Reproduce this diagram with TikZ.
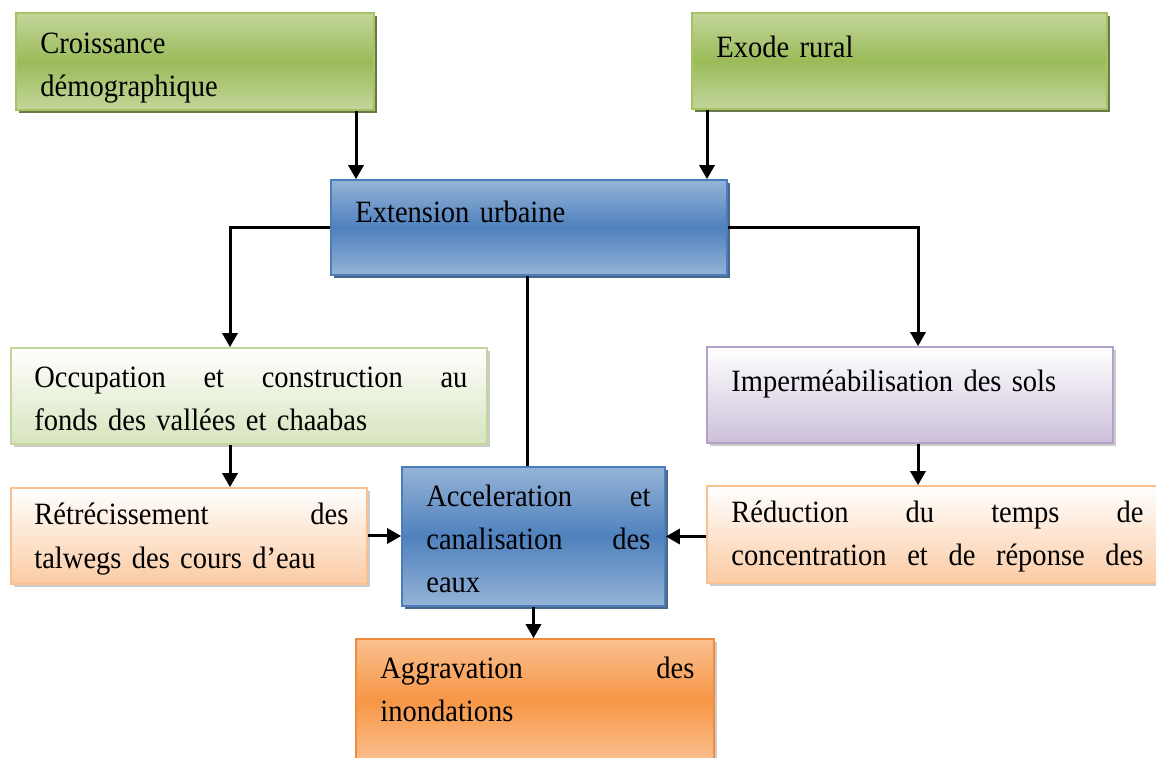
\documentclass[tikz,border=0pt]{standalone}
\usepackage{fontspec}
\setmainfont{Liberation Serif}[FakeStretch=0.92]
\usetikzlibrary{shadows,arrows.meta,fit}
\definecolor{gTop}{HTML}{C3D69B}
\definecolor{gMid}{HTML}{9BBB59}
\definecolor{gBorder}{HTML}{A5C265}
\definecolor{gShadow}{HTML}{4F6228}
\definecolor{bTop}{HTML}{95B3D7}
\definecolor{bMid}{HTML}{4F81BD}
\definecolor{bBorder}{HTML}{4A7EBB}
\definecolor{bShadow}{HTML}{2C4D75}
\definecolor{lgBottom}{HTML}{D7E4BD}
\definecolor{lgBorder}{HTML}{C3D69B}
\definecolor{pBottom}{HTML}{CCC0DA}
\definecolor{pBorder}{HTML}{B3A2C7}
\definecolor{oBottom}{HTML}{FBCBA4}
\definecolor{oBorder}{HTML}{FAC090}
\definecolor{aTop}{HTML}{FAC090}
\definecolor{aMid}{HTML}{F79646}
\definecolor{aBorder}{HTML}{F38B3C}
\definecolor{lShadow}{HTML}{BFBFBF}
\begin{document}
\begin{tikzpicture}[x=0.5pt,y=-0.5pt,
  boxbase/.style={inner sep=0pt, line width=0.8pt},
  greenbox/.style={boxbase, draw=gBorder, top color=gTop, bottom color=gTop, middle color=gMid,
    drop shadow={shadow xshift=1.6pt, shadow yshift=-1.6pt, fill=gShadow, opacity=0.85}},
  bluebox/.style={boxbase, draw=bBorder, top color=bTop, bottom color=bTop, middle color=bMid,
    drop shadow={shadow xshift=1.6pt, shadow yshift=-1.6pt, fill=bShadow, opacity=0.85}},
  lgreenbox/.style={boxbase, draw=lgBorder, top color=white, bottom color=lgBottom,
    drop shadow={shadow xshift=1.6pt, shadow yshift=-1.6pt, fill=lShadow, opacity=0.8}},
  purplebox/.style={boxbase, draw=pBorder, top color=white, bottom color=pBottom,
    drop shadow={shadow xshift=1.6pt, shadow yshift=-1.6pt, fill=lShadow, opacity=0.8}},
  lorangebox/.style={boxbase, draw=oBorder, top color=white, bottom color=oBottom,
    drop shadow={shadow xshift=1.6pt, shadow yshift=-1.6pt, fill=lShadow, opacity=0.8}},
  orangebox/.style={boxbase, draw=aBorder, top color=aTop, bottom color=aTop, middle color=aMid,
    drop shadow={shadow xshift=1.6pt, shadow yshift=-1.6pt, fill=lShadow, opacity=0.8}},
  txt/.style={inner sep=0pt, anchor=base west, align=left,
    font=\fontsize{15.5pt}{21.5pt}\selectfont},
  arr/.style={line width=1.5pt, -{Triangle[length=7pt,width=7.5pt]}},
  ln/.style={line width=1.5pt}
]
\useasboundingbox (0,0) rectangle (1156,758);

% boxes
\node[greenbox, fit={(16,13) (374,110)}] (cro) {};
\node[greenbox, fit={(692,13) (1107,109)}] (exo) {};
\node[bluebox, fit={(331,180) (727,275)}] (ext) {};
\node[lgreenbox, fit={(11,348) (487,444)}] (occ) {};
\node[purplebox, fit={(707,347) (1113,443)}] (imp) {};
\node[lorangebox, fit={(11,488) (367,584)}] (ret) {};
\node[bluebox, fit={(402,467) (665,606)}] (acc) {};
\node[lorangebox, fit={(707,486) (1175,583)}] (red) {};
\node[orangebox, fit={(356,639) (714,762)}] (agg) {};

% texts
\node[txt, text width=160pt] (crot) at (40,54) {Croissance\\démographique};
\node[txt, text width=190pt] (exot) at (716,58) {Exode rural};
\node[txt, text width=180pt] (extt) at (355,223) {Extension urbaine};
\node[txt, text width=216.5pt] (occt) at (34,388)
  {Occupation\hfill et\hfill construction\hfill au\\fonds des vallées et chaabas};
\node[txt, text width=190pt] (impt) at (731,392) {Imperméabilisation des sols};
\node[txt, text width=157pt] (rett) at (34,525)
  {Rétrécissement\hfill des\\talwegs des cours d’eau};
\node[txt, text width=112pt] (acct) at (426,507)
  {Acceleration\hfill et\\canalisation\hfill des\\eaux};
\node[txt, text width=206pt] (redt) at (731,523)
  {Réduction\hfill du\hfill temps\hfill de\\concentration\hfill et\hfill de\hfill réponse\hfill des};
\node[txt, text width=157pt] (aggt) at (380,678)
  {Aggravation\hfill des\\inondations};

% connectors
\draw[arr] (356,0 |- cro.south) -- (356,0 |- ext.north);
\draw[arr] (707,0 |- exo.south) -- (707,0 |- ext.north);
\draw[arr] (ext.west) -| (230,0 |- occ.north);
\draw[arr] (ext.east) -| (918,0 |- imp.north);
\draw[ln] (527,0 |- ext.south) -- (527,0 |- acc.north);
\draw[arr] (230,0 |- occ.south) -- (230,0 |- ret.north);
\draw[arr] (918,0 |- imp.south) -- (918,0 |- red.north);
\draw[arr] (ret.east) -- (ret.east -| acc.west);
\draw[arr] (red.west |- acc.center) -- (acc.east);
\draw[arr] (acc.south) -- (acc.south |- agg.north);
\end{tikzpicture}
\end{document}
